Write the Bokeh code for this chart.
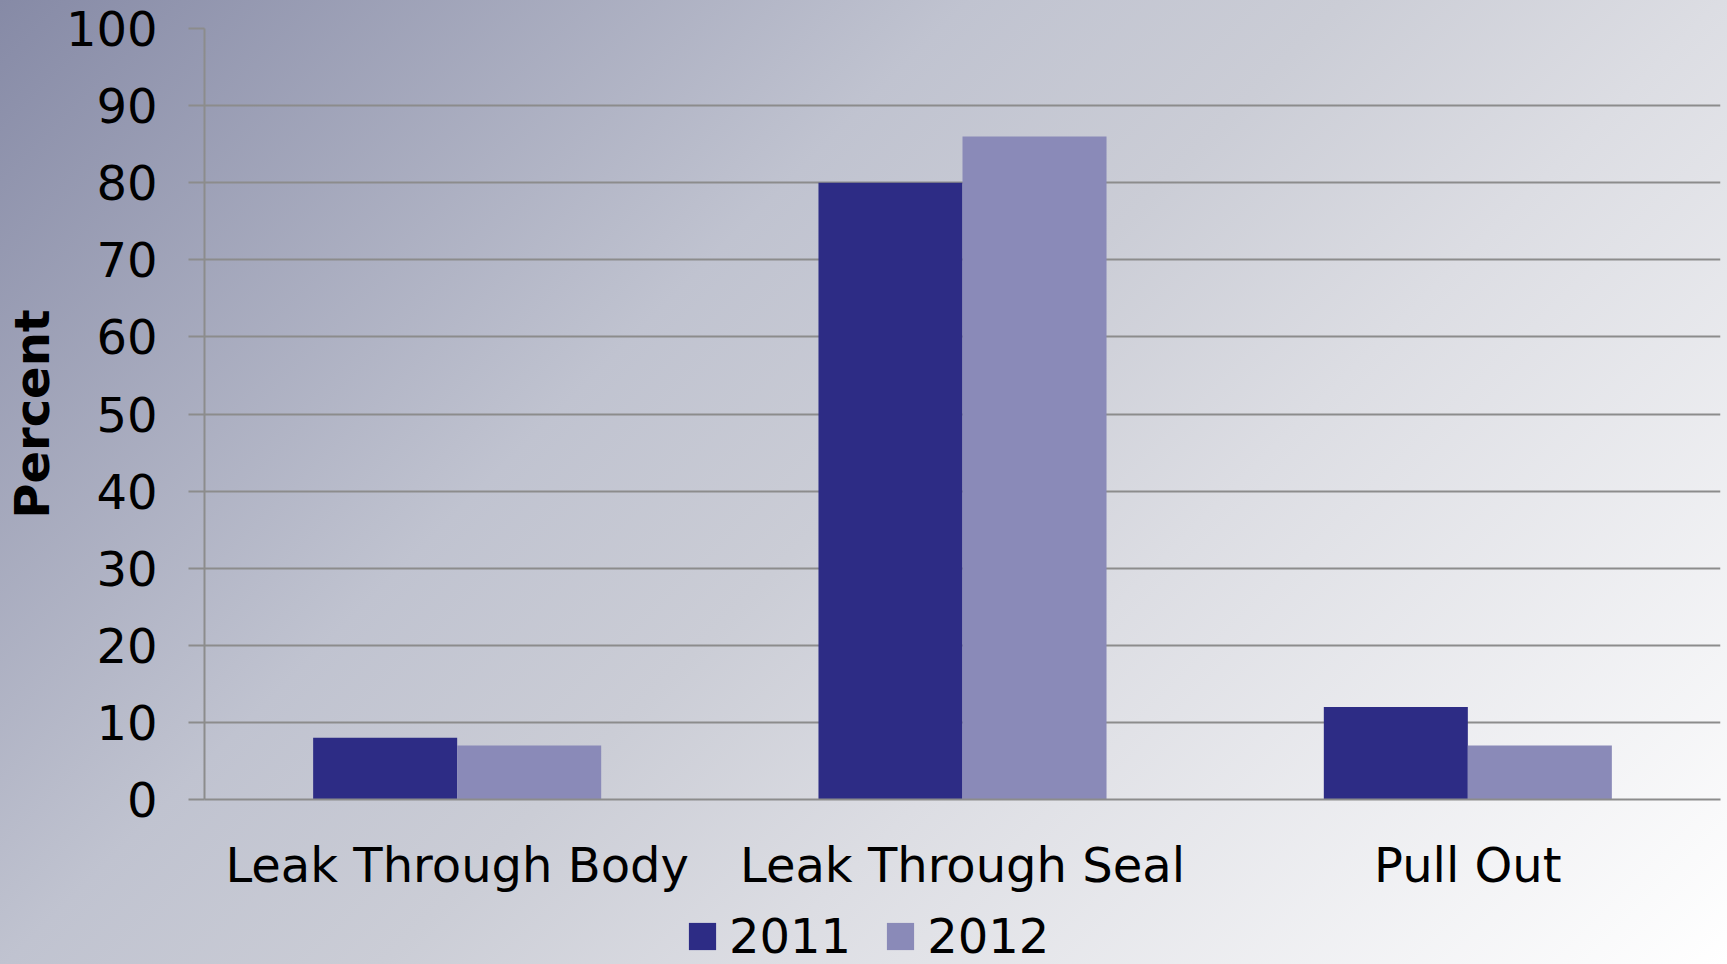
from bokeh.plotting import figure
from bokeh.layouts import column
from bokeh.models import (ColumnDataSource, FactorRange, Legend, LegendItem,
                          InlineStyleSheet, Range1d, FixedTicker)
from bokeh.transform import dodge
from bokeh.embed import file_html
from bokeh.resources import INLINE

categories = ["Leak Through Body", "Leak Through Seal", "Pull Out"]
series_2011 = [8, 80, 12]
series_2012 = [7, 86, 7]
series_names = ["2011", "2012"]
y_ticks = [0, 10, 20, 30, 40, 50, 60, 70, 80, 90, 100]

FONT = "DejaVu Sans"
GRID = "#8c8c8c"
C2011 = "#2d2c85"
C2012 = "#8a8ab8"

src = ColumnDataSource(dict(cat=categories, y2011=series_2011, y2012=series_2012))

p = figure(width=1727, height=908, output_backend="svg", toolbar_location=None,
           x_range=FactorRange(*categories, range_padding=0),
           y_range=Range1d(0, 100),
           min_border_left=203, min_border_right=7, min_border_top=28,
           min_border_bottom=109)
p.background_fill_alpha = 0
p.border_fill_alpha = 0
p.outline_line_color = None

bw = 0.285
r1 = p.vbar(x=dodge("cat", -bw / 2, range=p.x_range), top="y2011", width=bw,
            source=src, fill_color=C2011, line_color=None)
r2 = p.vbar(x=dodge("cat", bw / 2, range=p.x_range), top="y2012", width=bw,
            source=src, fill_color=C2012, line_color=None)

# grid
p.xgrid.grid_line_color = None
p.ygrid.grid_line_color = GRID
p.ygrid.grid_line_width = 2

# y axis
p.yaxis.ticker = FixedTicker(ticks=y_ticks)
p.yaxis.axis_label = "Percent"
p.yaxis.axis_label_text_font = FONT
p.yaxis.axis_label_text_font_size = "48px"
p.yaxis.axis_label_text_font_style = "bold"
p.yaxis.axis_label_text_color = "black"
p.yaxis.axis_label_standoff = 3
p.yaxis.major_label_text_font = FONT
p.yaxis.major_label_text_font_size = "48px"
p.yaxis.major_label_text_color = "black"
p.yaxis.major_label_standoff = 31
p.yaxis.major_tick_out = 16
p.yaxis.major_tick_in = 0
p.yaxis.major_tick_line_color = GRID
p.yaxis.major_tick_line_width = 2
p.yaxis.minor_tick_line_color = None
p.yaxis.axis_line_color = GRID
p.yaxis.axis_line_width = 2

# x axis
p.xaxis.major_label_text_font = FONT
p.xaxis.major_label_text_font_size = "48px"
p.xaxis.major_label_text_color = "black"
p.xaxis.major_label_standoff = 31
p.xaxis.major_tick_line_color = None
p.xaxis.minor_tick_line_color = None
p.xaxis.axis_line_color = GRID
p.xaxis.axis_line_width = 2

# legend strip below the chart (legend renderers hidden, only used for swatches)
q = figure(width=1727, height=56, output_backend="svg", toolbar_location=None,
           x_range=p.x_range, y_range=Range1d(0, 100),
           min_border=0, x_axis_type=None, y_axis_type=None)
q.background_fill_alpha = 0
q.border_fill_alpha = 0
q.outline_line_color = None
q.grid.grid_line_color = None
lg1 = q.vbar(x="cat", top="y2011", width=bw, source=src,
             fill_color=C2011, line_color=None, visible=False)
lg2 = q.vbar(x="cat", top="y2012", width=bw, source=src,
             fill_color=C2012, line_color=None, visible=False)

legend = Legend(items=[LegendItem(label=series_names[0], renderers=[lg1]),
                       LegendItem(label=series_names[1], renderers=[lg2])],
                location=(481, 0), orientation="horizontal",
                background_fill_alpha=0, border_line_color=None,
                padding=0, margin=0, spacing=32, label_standoff=10,
                glyph_width=34, glyph_height=34,
                label_text_font=FONT, label_text_font_size="48px",
                label_text_color="black")
q.add_layout(legend)

layout = column(p, q, spacing=0)
layout.stylesheets = [InlineStyleSheet(css=":host { background: linear-gradient(135deg, #868aa6 0%, #c0c3d0 36%, #cbcdd6 50%, #dcdde3 64%, #ffffff 100%); }")]

open("out.html", "w").write(file_html(layout, INLINE))
